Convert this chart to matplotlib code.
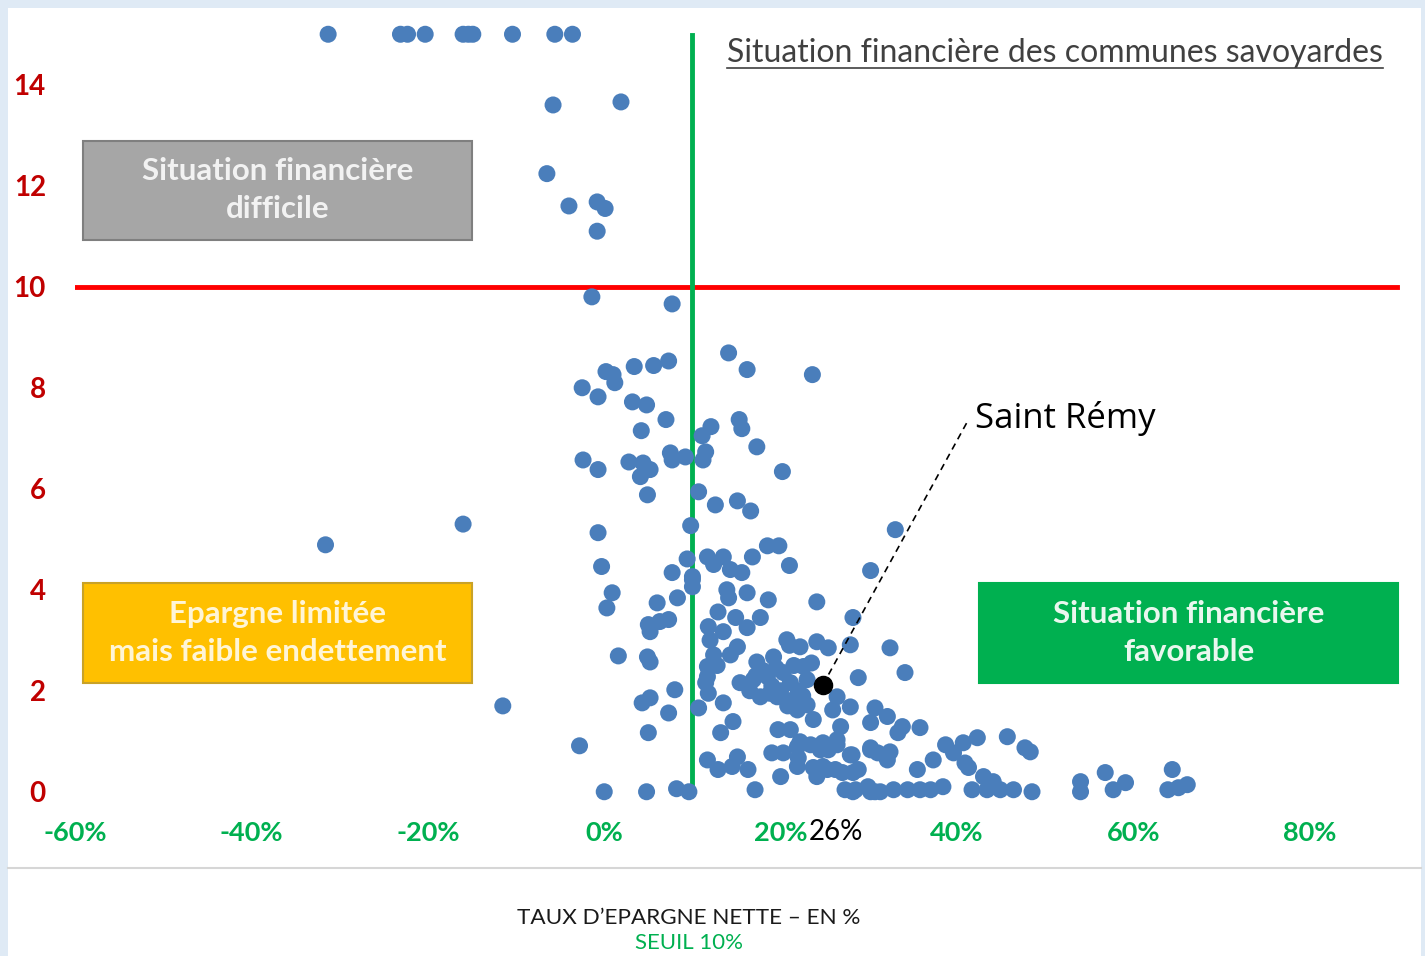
import matplotlib.pyplot as plt
from matplotlib.patches import Rectangle

# taux d'epargne nette (%) / capacite de desendettement (annees)
taux = [
    -31.3, -23.1, -22.3, -20.3, -16.0, -15.4, -14.9, -10.4, -5.6, -3.6,
    -5.8, 1.9, -6.5, -4.0, -0.8, 0.1, -0.8, -1.4, 7.7,
    14.1, 16.2, 23.6, 7.3, 5.6, 3.4, 0.2, 1.0, 1.2, -2.5, -0.7, 3.2, 4.8, 7.0, 4.2,
    12.1, 11.1, 15.3, 15.6, 17.3, 20.2, 11.5, 11.2, -2.4, -0.7, 2.8, 4.4, 5.2, 4.1,
    4.9, 7.5, 7.7, 9.2, 10.7, 12.6, 15.1, 16.6, 9.8, -0.7, 33.0, -0.3, 9.4, 7.7,
    10.0, 11.7, 13.5, 16.8, 18.5, 19.8, 21.0, 30.2, -16.0, -31.6, -11.5, -2.8,
    0.0, 4.8, 8.2, 9.6,
    10.0, 10.0, 12.4, 14.3, 15.6, 0.9, 0.3, 6.0, 8.3, 13.9, 14.1, 16.2, 18.6, 24.1,
    12.9, 14.9, 17.7, 11.8, 13.5, 16.2, 28.2, 5.0, 6.3, 7.3, 5.2, 15.1, 14.3, 12.4,
    11.7, 11.7, 11.5, 1.6, 4.9, 5.2, 20.7, 22.2, 24.1, 25.4, 27.9, 32.4, 17.3, 19.2,
    22.6, 15.4, 16.9, 18.5, 20.3, 21.1, 23.0, 17.7, 19.6, 21.4, 21.9, 23.7, 23.0,
    26.4, 25.9, 28.8, 27.9, 26.8, 26.4, 25.4, 10.7, 13.5, 14.6, 13.2, 8.0, 7.3, 5.2,
    4.3, 5.0, 19.7, 21.1, 19.0, 20.3, 21.9, 23.4, 24.5, 11.7, 12.9, 14.5, 15.1,
    16.3, 20.0, 21.9, 24.1, 24.1, 25.3, 27.0, 28.2, 27.9, 30.2, 29.9, 17.1, 28.2, 30.7,
    18.0, 19.0, 20.0, 21.5, 22.0, 19.5, 18.8, 20.8, 22.5, 16.5, 17.2, 21.0, 23.5,
    12.0, 12.8, 11.8,
    34.1, 30.7, 32.1, 30.2, 33.8, 35.8, 33.3, 30.2, 28.1, 32.4, 32.1, 35.5, 37.3,
    38.7, 39.6, 40.7, 42.3, 40.9, 41.3, 43.0, 44.1, 45.7, 47.7, 48.3, 27.3, 28.5,
    30.2, 31.3, 32.8, 34.4, 35.8, 37.0, 38.4, 41.7, 43.4, 44.9, 46.4, 48.5, 54.0,
    54.0, 56.8, 57.7, 59.1, 64.4, 63.9, 65.1, 66.1, 22.0, 23.7, 24.8, 26.2, 28.8,
    31.0, 26.4, 24.8, 22.2,
]
desendettement = [
    15, 15, 15, 15, 15, 15, 15, 15, 15, 15,
    13.6, 13.66, 12.24, 11.6, 11.68, 11.55, 11.1, 9.8, 9.66,
    8.69, 8.36, 8.26, 8.53, 8.44, 8.42, 8.32, 8.26, 8.1, 8.0, 7.82, 7.72, 7.66, 7.37, 7.15,
    7.23, 7.05, 7.37, 7.19, 6.83, 6.34, 6.73, 6.57, 6.57, 6.38, 6.53, 6.51, 6.38, 6.24,
    5.88, 6.71, 6.57, 6.63, 5.94, 5.68, 5.76, 5.56, 5.27, 5.13, 5.19, 4.46, 4.61, 4.34,
    4.26, 4.65, 4.65, 4.65, 4.87, 4.87, 4.48, 4.38, 5.3, 4.89, 1.7, 0.91,
    0.0, 0.0, 0.06, 0.0,
    4.2, 4.06, 4.5, 4.4, 4.34, 3.94, 3.64, 3.74, 3.84, 4.0, 3.84, 3.94, 3.8, 3.76,
    3.56, 3.45, 3.45, 3.27, 3.17, 3.25, 3.45, 3.31, 3.37, 3.41, 3.17, 2.87, 2.71, 2.71,
    2.48, 2.28, 2.16, 2.69, 2.67, 2.57, 3.01, 2.87, 2.97, 2.85, 2.91, 2.85, 2.57, 2.67,
    2.48, 2.16, 2.22, 2.28, 2.36, 2.16, 2.22, 1.88, 1.88, 1.82, 1.62, 1.43, 1.72,
    1.88, 1.62, 2.26, 1.68, 1.29, 1.03, 0.83, 1.66, 1.76, 1.39, 1.17, 2.02, 1.56, 1.86,
    1.76, 1.17, 1.23, 1.23, 0.77, 0.77, 0.89, 0.93, 0.83, 0.63, 0.44, 0.50, 0.69,
    0.44, 0.30, 0.50, 0.44, 0.30, 0.44, 0.38, 0.38, 0.73, 0.83, 0.10, 0.04, 0.0, 0.0,
    2.4, 2.1, 2.0, 2.5, 2.0, 2.45, 1.95, 1.7, 1.9, 2.0, 2.3, 2.9, 2.55,
    3.0, 2.5, 1.95,
    2.36, 1.66, 1.49, 1.37, 1.29, 1.27, 1.17, 0.87, 0.73, 0.79, 0.63, 0.44, 0.63,
    0.93, 0.77, 0.97, 1.07, 0.57, 0.48, 0.30, 0.20, 1.09, 0.87, 0.79, 0.04, 0.04,
    0.0, 0.0, 0.04, 0.04, 0.04, 0.04, 0.1, 0.04, 0.04, 0.04, 0.04, 0.0, 0.2,
    0.0, 0.38, 0.04, 0.18, 0.44, 0.04, 0.08, 0.14, 0.67, 0.48, 0.50, 0.44, 0.44,
    0.77, 0.93, 0.97, 0.99,
]

saint_remy_x = 24.8
saint_remy_y = 2.12
saint_remy_label = "26%"

x_ticks = [-60, -40, -20, 0, 20, 40, 60, 80]
y_ticks = [0, 2, 4, 6, 8, 10, 12, 14]
seuil_epargne = 10
seuil_desendettement = 10

W, H = 1425, 956


def px(x, y):
    # pixel -> figure fraction
    return x / W, 1 - y / H


def generate_graph():
    fig = plt.figure(figsize=(14.25, 9.56), dpi=100, facecolor="#dfeaf5")
    fig.patches.append(Rectangle(px(8, 956), (1421 - 8) / W, (956 - 8) / H,
                                 transform=fig.transFigure, facecolor="white",
                                 edgecolor="none", zorder=-1))
    fig.add_artist(plt.Line2D([8 / W, 1421 / W], [1 - 868 / H] * 2,
                              color="#d6d6d6", lw=1.5))

    ax = fig.add_axes([75 / W, 1 - 817 / H, (1421 - 75) / W, (817 - 8) / H])
    ax.set_facecolor("none")
    ax.set_xlim(-60, 92.6)
    ax.set_ylim(-0.5, 15.52)
    for s in ax.spines.values():
        s.set_visible(False)

    ax.scatter(taux, desendettement, s=150, color="#4a7ebb", edgecolors="none", zorder=3)
    ax.plot([-60, 89.9], [seuil_desendettement] * 2, color="#ff0000", lw=3.5, zorder=2)
    ax.plot([seuil_epargne] * 2, [0, 14.98], color="#00b050", lw=3.5, zorder=2)

    ax.set_xticks(x_ticks)
    ax.set_xticklabels([f"{t}%" for t in x_ticks])
    ax.set_yticks(y_ticks)
    ax.tick_params(length=0)
    ax.tick_params(axis="x", pad=3, labelsize=19.5, labelcolor="#00b050")
    ax.tick_params(axis="y", pad=21, labelsize=20, labelcolor="#c00000")
    for lab in ax.get_xticklabels() + ax.get_yticklabels():
        lab.set_fontweight("bold")
        lab.set_family("Lato")

    # point Saint Remy
    ax.scatter([saint_remy_x], [saint_remy_y], s=170, color="black", zorder=4)
    ax.plot([saint_remy_x, 41.3], [saint_remy_y, 7.37], color="black", lw=1.2,
            ls=(0, (4, 3)), zorder=4)
    ax.text(42.0, 7.4, "Saint Rémy", fontsize=25, family="Open Sans",
            va="center", ha="left")
    ax.text(26.3, -0.79, saint_remy_label, fontsize=20, family="Lato", color="black",
            ha="center", va="center", clip_on=False)

    # boites
    boxes = [
        (-59.1, 10.93, 44.1, 1.96, "#a6a6a6", "#7f7f7f", "#f2f2f2",
         "Situation financière\ndifficile"),
        (-59.1, 2.16, 44.1, 1.98, "#ffc000", "#c9a227", "#fff5d6",
         "Epargne limitée\nmais faible endettement"),
        (42.5, 2.16, 47.5, 1.98, "#00b050", "#00b050", "#e9f7ee",
         "Situation financière\nfavorable"),
    ]
    for x0, y0, w, h, fc, ec, tc, txt in boxes:
        ax.add_patch(Rectangle((x0, y0), w, h, facecolor=fc, edgecolor=ec,
                               lw=1.5, zorder=5))
        ax.text(x0 + w / 2, y0 + h / 2, txt, ha="center", va="center",
                fontsize=22.5, fontweight="bold", family="Lato", color=tc,
                linespacing=1.45, zorder=6)

    # titre souligne
    ax.text(88.3, 14.62, "Situation financière des communes savoyardes",
            ha="right", va="center", fontsize=23, family="Lato", color="#404040")
    ax.plot([13.9, 88.3], [14.33, 14.33], color="#404040", lw=1.2)

    fig.text(*px(689, 918), "TAUX D’EPARGNE NETTE – EN %", ha="center", va="center",
             fontsize=16.2, family="Lato", color="#1a1a1a")
    fig.text(*px(689, 943), "SEUIL 10%", ha="center", va="center",
             fontsize=16, family="Lato", color="#00b050")

    fig.savefig("out.png", dpi=100, facecolor=fig.get_facecolor())


def main():
    generate_graph()


if __name__ == "__main__":
    main()
